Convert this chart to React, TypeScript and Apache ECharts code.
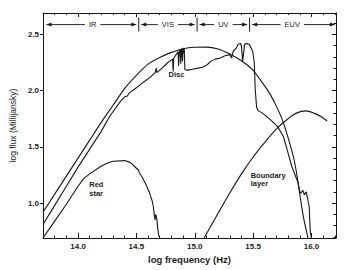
import { useEffect, useRef } from 'react';
import * as echarts from 'echarts';

// axis ranges (log frequency / log flux)
const X_MIN = 13.7;
const X_MAX = 16.21;
const Y_MIN = 0.69;
const Y_MAX = 2.69;

// smooth accretion-disc model curve
const diskModel: number[][] = [
  [13.7, 0.92], [13.8, 1.08], [13.9, 1.24], [14.0, 1.4], [14.1, 1.56], [14.2, 1.72],
  [14.3, 1.87], [14.4, 2.02], [14.5, 2.135], [14.6, 2.235], [14.7, 2.295], [14.8, 2.34],
  [14.9, 2.373], [15.0, 2.386], [15.1, 2.387], [15.2, 2.37], [15.3, 2.325], [15.4, 2.265],
  [15.5, 2.18], [15.6, 2.04], [15.65, 1.96], [15.7, 1.86], [15.75, 1.74], [15.8, 1.58],
  [15.85, 1.39], [15.88, 1.22], [15.9, 1.08], [15.93, 0.88], [15.97, 0.69],
];

// observed disc spectrum
const discObserved: number[][] = [
  [13.7, 0.81], [13.8, 0.98], [13.9, 1.15], [14.0, 1.32], [14.1, 1.48], [14.2, 1.64],
  [14.27, 1.77], [14.36, 1.9], [14.4, 1.945], [14.42, 1.95], [14.44, 1.98], [14.5, 2.025],
  [14.56, 2.075], [14.62, 2.12], [14.66, 2.16], [14.67, 2.2], [14.675, 2.16], [14.72, 2.2],
  [14.77, 2.25], [14.81, 2.28], [14.815, 2.17], [14.82, 2.29], [14.857, 2.345], [14.862, 2.22],
  [14.867, 2.35], [14.875, 2.36], [14.88, 2.24], [14.885, 2.365], [14.89, 2.37], [14.895, 2.26],
  [14.9, 2.38], [14.905, 2.33], [14.91, 2.37], [14.915, 2.19], [14.93, 2.18], [14.98, 2.19],
  [15.03, 2.2], [15.07, 2.21], [15.107, 2.23], [15.135, 2.26], [15.177, 2.28], [15.218, 2.29],
  [15.26, 2.31], [15.3, 2.32], [15.315, 2.29], [15.33, 2.35], [15.357, 2.38], [15.37, 2.41],
  [15.39, 2.42], [15.4, 2.4], [15.41, 2.26], [15.427, 2.41], [15.44, 2.42], [15.468, 2.41],
  [15.496, 2.35], [15.51, 2.25], [15.518, 2.01], [15.53, 1.85], [15.545, 1.82], [15.58, 1.8],
  [15.65, 1.74], [15.71, 1.68], [15.76, 1.59], [15.79, 1.48], [15.83, 1.33], [15.885, 1.18],
  [15.9, 1.1], [15.91, 1.09], [15.925, 1.115], [15.94, 1.075], [15.955, 1.1], [15.98, 0.97],
  [15.99, 0.74], [16.0, 0.69],
];

// red star spectrum
const redStar: number[][] = [
  [13.7, 0.69], [13.8, 0.84], [13.9, 0.99], [14.0, 1.15], [14.05, 1.22], [14.1, 1.26],
  [14.2, 1.33], [14.25, 1.355], [14.3, 1.372], [14.4, 1.378], [14.45, 1.36], [14.5, 1.31],
  [14.52, 1.29], [14.525, 1.27], [14.55, 1.23], [14.58, 1.17], [14.6, 1.12], [14.61, 1.1],
  [14.635, 1.02], [14.645, 0.97], [14.655, 0.88], [14.66, 0.85], [14.665, 0.9], [14.675, 0.86],
  [14.68, 0.8], [14.69, 0.72], [14.7, 0.69],
];

// boundary layer spectrum
const boundaryLayer: number[][] = [
  [15.08, 0.69], [15.2, 0.91], [15.3, 1.09], [15.4, 1.26], [15.5, 1.41], [15.6, 1.54],
  [15.7, 1.66], [15.8, 1.75], [15.87, 1.8], [15.95, 1.82], [16.02, 1.8], [16.08, 1.77],
  [16.135, 1.73],
];

// spectral regions along the top
const regionBounds = [13.73, 14.52, 15.02, 15.47, 16.2];
const regionLabels = ['IR', 'VIS', 'UV', 'EUV'];
const regionLevel = 2.587;

// curve annotations
const labelTexts = ['Disc', 'Red\nstar', 'Boundary\nlayer'];
const labelX = [14.843, 14.096, 15.479];
const labelY = [2.14, 1.124, 1.209];
const labelAlign = ['center', 'left', 'left'];

const INK = '#161616';
const TEXT = '#1c1c1c';
const FONT = '"Liberation Sans", Arial, sans-serif';

export default function App() {
  const ref = useRef<HTMLDivElement>(null);

  useEffect(() => {
    if (!ref.current) return;
    const chart = echarts.init(ref.current, undefined, { renderer: 'svg' });

    const axisLine = { show: true, onZero: false, lineStyle: { color: INK, width: 1 } };
    const tickLine = { color: INK, width: 1 };

    const lineSeries = (name: string, data: number[][], smooth: number | boolean) => ({
      name,
      type: 'line',
      data,
      smooth,
      showSymbol: false,
      symbol: 'none',
      lineStyle: { color: INK, width: 1.1 },
      silent: true,
    });

    chart.setOption({
      animation: false,
      backgroundColor: '#ffffff',
      textStyle: { fontFamily: FONT },
      grid: { left: 34, top: 13, width: 302, height: 225, containLabel: false },
      xAxis: [
        {
          type: 'value',
          min: X_MIN,
          max: X_MAX,
          splitNumber: 5,
          name: 'log frequency (Hz)',
          nameLocation: 'middle',
          nameGap: 16,
          nameTextStyle: { color: TEXT, fontSize: 9.5, fontWeight: 'bold', fontFamily: FONT },
          axisLine,
          axisTick: { show: true, inside: true, length: 5, lineStyle: tickLine },
          minorTick: { show: true, splitNumber: 5, length: 2.5, lineStyle: tickLine },
          axisLabel: {
            show: true,
            margin: 4,
            showMinLabel: false,
            showMaxLabel: false,
            color: TEXT,
            fontSize: 8,
            fontWeight: 'bold',
            fontFamily: FONT,
            formatter: (v: number) => v.toFixed(1),
          },
          splitLine: { show: false },
        },
        {
          type: 'value',
          position: 'top',
          min: X_MIN,
          max: X_MAX,
          splitNumber: 5,
          axisLine,
          axisTick: { show: true, inside: true, length: 4, lineStyle: tickLine },
          minorTick: { show: true, splitNumber: 5, length: 2, lineStyle: tickLine },
          axisLabel: { show: false },
          splitLine: { show: false },
        },
      ],
      yAxis: [
        {
          type: 'value',
          min: Y_MIN,
          max: Y_MAX,
          splitNumber: 4,
          name: 'log flux (Millijansky)',
          nameLocation: 'middle',
          nameRotate: 90,
          nameGap: 20,
          nameTextStyle: { color: TEXT, fontSize: 8.5, fontFamily: FONT },
          axisLine,
          axisTick: { show: true, inside: false, length: 3, lineStyle: tickLine },
          axisLabel: {
            show: true,
            margin: 4,
            showMinLabel: false,
            showMaxLabel: false,
            color: TEXT,
            fontSize: 8,
            fontWeight: 'bold',
            fontFamily: FONT,
            formatter: (v: number) => v.toFixed(1),
          },
          splitLine: { show: false },
        },
        {
          type: 'value',
          position: 'right',
          min: Y_MIN,
          max: Y_MAX,
          splitNumber: 4,
          axisLine,
          axisTick: { show: true, inside: true, length: 4, lineStyle: tickLine },
          minorTick: { show: true, splitNumber: 5, length: 2.5, lineStyle: tickLine },
          axisLabel: { show: false },
          splitLine: { show: false },
        },
      ],
      series: [
        lineSeries('Disc model', diskModel, 0.2),
        lineSeries('Disc', discObserved, false),
        lineSeries('Red star', redStar, false),
        lineSeries('Boundary layer', boundaryLayer, 0.3),
        {
          name: 'regions',
          type: 'custom',
          silent: true,
          clip: false,
          encode: { x: [0, 1], y: 2 },
          data: regionLabels.map((_, i) => [regionBounds[i], regionBounds[i + 1], regionLevel]),
          renderItem: (params: any, api: any) => {
            const i = params.dataIndex;
            const a = api.coord([api.value(0), api.value(2)]);
            const b = api.coord([api.value(1), api.value(2)]);
            const first = i === 0;
            const last = i === regionLabels.length - 1;
            const x0 = a[0] + (first ? 0 : 2.5);
            const x1 = b[0] - (last ? 0 : 2.5);
            const y = a[1];
            const mid = (a[0] + b[0]) / 2;
            const children: any[] = [
              { type: 'line', shape: { x1: x0, y1: y, x2: x1, y2: y }, style: { stroke: INK, lineWidth: 0.9 } },
              { type: 'polygon', shape: { points: [[x0, y], [x0 + 5, y - 2], [x0 + 5, y + 2]] }, style: { fill: INK } },
              { type: 'polygon', shape: { points: [[x1, y], [x1 - 5, y - 2], [x1 - 5, y + 2]] }, style: { fill: INK } },
              {
                type: 'text',
                x: mid,
                y,
                style: {
                  text: regionLabels[i],
                  fill: TEXT,
                  fontSize: 7.5,
                  fontFamily: FONT,
                  align: 'center',
                  verticalAlign: 'middle',
                  backgroundColor: '#ffffff',
                  padding: [1, 4],
                },
              },
            ];
            if (!last) {
              children.push({ type: 'line', shape: { x1: b[0], y1: y - 7, x2: b[0], y2: y + 7 }, style: { stroke: INK, lineWidth: 1 } });
            }
            return { type: 'group', children };
          },
        },
        {
          name: 'labels',
          type: 'custom',
          silent: true,
          clip: false,
          encode: { x: 0, y: 1 },
          data: labelTexts.map((_, i) => [labelX[i], labelY[i]]),
          renderItem: (params: any, api: any) => {
            const i = params.dataIndex;
            const p = api.coord([api.value(0), api.value(1)]);
            return {
              type: 'text',
              x: p[0],
              y: p[1],
              style: {
                text: labelTexts[i],
                fill: TEXT,
                fontSize: 7.5,
                fontWeight: 'bold',
                fontFamily: FONT,
                lineHeight: 8.5,
                align: labelAlign[i],
                verticalAlign: 'middle',
              },
            };
          },
        },
      ],
    });

    return () => chart.dispose();
  }, []);

  return (
    <div
      ref={ref}
      style={{ position: 'absolute', left: 0, top: 0, width: 359, height: 270, background: '#fff' }}
    />
  );
}
